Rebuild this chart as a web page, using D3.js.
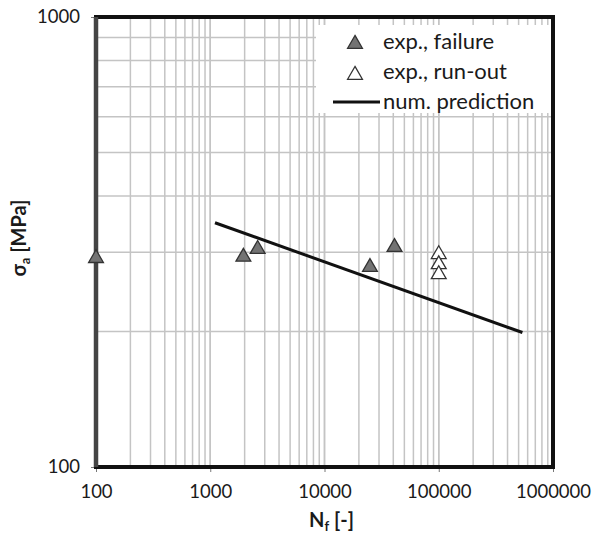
<!DOCTYPE html>
<html>
<head>
<meta charset="utf-8">
<script src="https://cdn.jsdelivr.net/npm/d3@7"></script>
<style>
  body { margin: 0; background: #fff; }
  text { font-family: Lato, "Open Sans", sans-serif; fill: #1a1a1a; }
</style>
</head>
<body>
<div id="chart"></div>
<script>
// experimental failures (N_f, sigma_a)
var failN     = [100, 1950, 2600, 25000, 41000];
var failS     = [291, 293, 305, 278, 308];
// run-outs
var runoutN   = [100000, 100000, 100000];
var runoutS   = [297, 282, 268];
// numerical prediction line
var predN     = [1100, 540000];
var predS     = [349, 199];

var xTicks    = [100, 1000, 10000, 100000, 1000000];
var yTicks    = [100, 1000];
var legendLabels = ['exp., failure', 'exp., run-out', 'num. prediction'];

var W = 606, H = 536;
var margin = {left: 96, top: 17, right: 53, bottom: 69};
var width  = W - margin.left - margin.right;
var height = H - margin.top - margin.bottom;

var svg = d3.select('#chart').append('svg')
    .attr('width', W).attr('height', H)
  .append('g')
    .attr('transform', 'translate(' + margin.left + ',' + margin.top + ')');

var x = d3.scaleLog().domain([100, 1000000]).range([0, width]);
var y = d3.scaleLog().domain([100, 1000]).range([height, 0]);

// minor + major grid
var xGrid = [], yGrid = [];
for (var d = 100; d < 1000000; d *= 10)
    for (var k = 1; k <= 10; k++) xGrid.push(d * k);
for (var k = 1; k <= 10; k++) yGrid.push(100 * k);

svg.append('g').selectAll('line').data(xGrid).enter().append('line')
    .attr('x1', function(v) { return x(v); }).attr('x2', function(v) { return x(v); })
    .attr('y1', 0).attr('y2', height)
    .attr('stroke', '#c4c4c4').attr('stroke-width', 1.5);
svg.append('g').selectAll('line').data(yGrid).enter().append('line')
    .attr('y1', function(v) { return y(v); }).attr('y2', function(v) { return y(v); })
    .attr('x1', 0).attr('x2', width)
    .attr('stroke', '#c4c4c4').attr('stroke-width', 1.5);

// axes
var xAxis = svg.append('g')
    .attr('transform', 'translate(0,' + height + ')')
    .call(d3.axisBottom(x).tickValues(xTicks).tickFormat(d3.format('d')).tickSize(5).tickPadding(13));
var yAxis = svg.append('g')
    .call(d3.axisLeft(y).tickValues(yTicks).tickFormat(d3.format('d')).tickSize(5).tickPadding(11));
[xAxis, yAxis].forEach(function(a) {
    a.select('.domain').remove();
    a.selectAll('line').attr('stroke', '#777');
    a.selectAll('text').style('font-size', '18.5px').style('font-family', 'Lato, sans-serif').attr('fill', '#1a1a1a');
});

// frame
svg.append('rect').attr('width', width).attr('height', height)
    .attr('fill', 'none').attr('stroke', '#111').attr('stroke-width', 4);
svg.append('line').attr('x1', 0).attr('x2', 0).attr('y1', 0).attr('y2', height)
    .attr('stroke', '#444').attr('stroke-width', 4.5);

// legend background
svg.append('rect').attr('x', 220).attr('y', 8).attr('width', width - 222).attr('height', 88)
    .attr('fill', '#fff');

// prediction line
var line = d3.line().x(function(d) { return x(d[0]); }).y(function(d) { return y(d[1]); });
svg.append('path').datum(d3.zip(predN, predS))
    .attr('d', line).attr('fill', 'none').attr('stroke', '#111').attr('stroke-width', 3);

var tri = d3.symbol().type(d3.symbolTriangle).size(95);

svg.append('g').selectAll('path').data(d3.zip(failN, failS)).enter().append('path')
    .attr('d', tri)
    .attr('transform', function(d) { return 'translate(' + x(d[0]) + ',' + y(d[1]) + ')'; })
    .attr('fill', '#737373').attr('stroke', '#333').attr('stroke-width', 1.3);

svg.append('g').selectAll('path').data(d3.zip(runoutN, runoutS)).enter().append('path')
    .attr('d', tri)
    .attr('transform', function(d) { return 'translate(' + x(d[0]) + ',' + y(d[1]) + ')'; })
    .attr('fill', '#fff').attr('stroke', '#333').attr('stroke-width', 1.3);

// legend
var lg = svg.append('g').attr('transform', 'translate(259,25)');
lg.append('path').attr('d', tri).attr('transform', 'translate(0,2)')
    .attr('fill', '#737373').attr('stroke', '#333').attr('stroke-width', 1.3);
lg.append('path').attr('d', tri).attr('transform', 'translate(0,33)')
    .attr('fill', '#fff').attr('stroke', '#333').attr('stroke-width', 1.3);
lg.append('line').attr('x1', -22).attr('x2', 25).attr('y1', 60).attr('y2', 60)
    .attr('stroke', '#111').attr('stroke-width', 3);
lg.selectAll('text.l').data(legendLabels).enter().append('text')
    .attr('x', 28)
    .attr('y', function(d, i) { return i * 30; })
    .attr('dy', '0.32em')
    .style('font-size', '22px')
    .text(function(d) { return d; });

// axis titles
var xt = svg.append('text')
    .attr('x', width / 2 + 7).attr('y', height + 60)
    .attr('text-anchor', 'middle').style('font-size', '20px').style('font-weight', 'bold');
xt.append('tspan').text('N');
xt.append('tspan').attr('dy', 4).style('font-size', '13px').text('f');
xt.append('tspan').attr('dy', -4).text(' [-]');

var yt = svg.append('text')
    .attr('transform', 'translate(' + (-70) + ',' + (height / 2 - 4) + ') rotate(-90)')
    .attr('text-anchor', 'middle').style('font-size', '20px').style('font-weight', 'bold');
yt.append('tspan').text('σ');
yt.append('tspan').attr('dy', 4).style('font-size', '13px').text('a');
yt.append('tspan').attr('dy', -4).text(' [MPa]');
</script>
</body>
</html>
